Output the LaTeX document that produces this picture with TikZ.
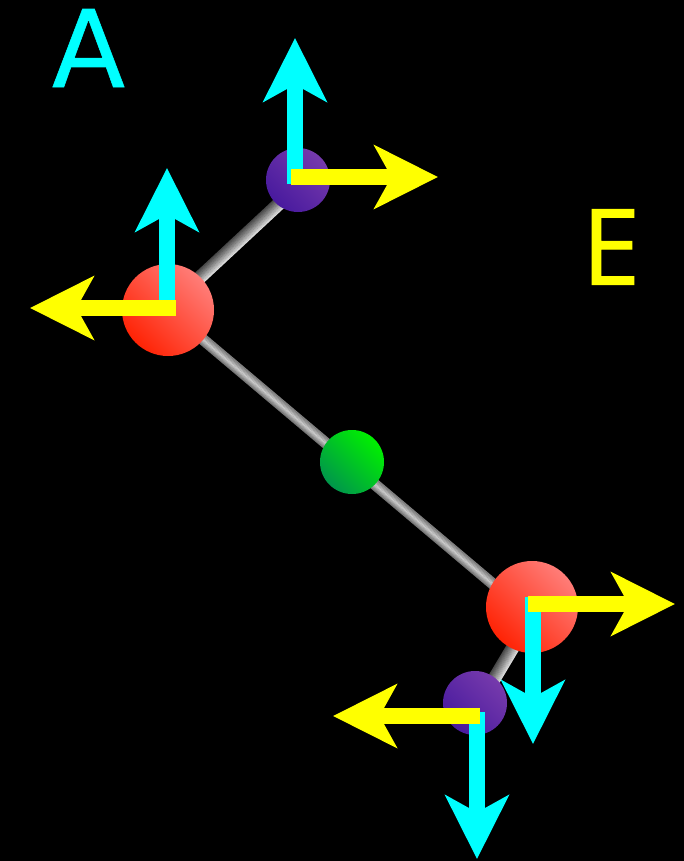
\documentclass[tikz,border=0pt]{standalone}
\usepackage{fontspec}
\newfontfamily\Afont[FakeBold=0.5]{DejaVu Sans}
\newfontfamily\Efont[FakeBold=1.0]{Open Sans}
\usetikzlibrary{arrows.meta,calc}
\definecolor{cyanA}{RGB}{0,255,255}
\definecolor{yellowE}{RGB}{255,255,0}
\definecolor{redlo}{RGB}{255,35,5}
\definecolor{redhi}{RGB}{255,125,120}
\definecolor{purplo}{RGB}{72,26,158}
\definecolor{purphi}{RGB}{118,58,172}
\definecolor{grnlo}{RGB}{0,150,75}
\definecolor{grnhi}{RGB}{0,240,0}
\tikzset{
  x=1pt,y=-1pt,
  atom/.style={circle,inner sep=0pt,draw=none},
  bigatom/.style={atom,minimum size=92pt,left color=redlo,right color=redhi,shading angle=135},
  smallatom/.style={atom,minimum size=64pt,left color=purplo,right color=purphi,shading angle=135},
  midatom/.style={atom,minimum size=64pt,left color=grnlo,right color=grnhi,shading angle=135},
  vec/.style={line width=16pt,-{Stealth[length=63.5pt,width=63pt,inset=17pt]}},
  cyanvec/.style={vec,draw=cyanA,color=cyanA},
  yellowvec/.style={vec,draw=yellowE,color=yellowE},
  letterA/.style={inner sep=0pt,font=\Afont\fontsize{107}{107}\selectfont},
  letterE/.style={inner sep=0pt,font=\Efont\fontsize{105}{105}\selectfont},
}
% from, to, half width, grey at the minus edge, mid, plus edge (percent of white)
\newcommand{\bond}[6]{%
  \pgfmathtruncatemacro{\nn}{2*#3}%
  \foreach \i in {0,...,\nn}{%
    \pgfmathsetmacro{\o}{\i-#3}%
    \pgfmathsetmacro{\g}{\o<0 ? #5+(#4-#5)*(-\o/#3) : #5+(#6-#5)*(\o/#3)}%
    \draw[line width=1.3pt,color=white!\g!black]
      ($(#1)!\o pt!90:(#2)$) -- ($(#2)!\o pt!-90:(#1)$);
  }%
}
\begin{document}
\begin{tikzpicture}
\useasboundingbox (0,0) rectangle (684,861);
\fill[black] (0,0) rectangle (684,861);
\coordinate (pa) at (298,180);
\coordinate (ra) at (168,310);
\coordinate (gc) at (352,462);
\coordinate (rb) at (532,607);
\coordinate (pb) at (475,703);
\coordinate (topa) at ($(pa)+(0,6)$);
\coordinate (topb) at ($(ra)+(0,-3)$);
\coordinate (mida) at (ra);
\coordinate (midb) at ($(rb)+(0,10)$);
\coordinate (lowa) at ($(rb)+(5,0)$);
\coordinate (lowb) at ($(pb)+(0,8)$);
\bond{topa}{topb}{6}{28}{55}{85}
\bond{mida}{midb}{5}{45}{80}{50}
\bond{lowa}{lowb}{6}{28}{55}{85}
\node[smallatom] (p1) at (pa) {};
\node[bigatom] (r1) at (ra) {};
\node[midatom] (g1) at (gc) {};
\node[bigatom] (r2) at (rb) {};
\node[smallatom] (p2) at (pb) {};
\node[letterA,text=cyanA] (la) at (88.5,48) {A};
\node[letterE,text=yellowE] (le) at (611,247) {E};
\coordinate (c1s) at (167,312); \coordinate (c1t) at (167,168);
\coordinate (y1s) at (176,308); \coordinate (y1t) at (30,308);
\coordinate (c2s) at (295,184); \coordinate (c2t) at (295,38);
\coordinate (y2s) at (291,177); \coordinate (y2t) at (438,177);
\coordinate (c3s) at (533,597); \coordinate (c3t) at (533,744);
\coordinate (y3s) at (528,604); \coordinate (y3t) at (675,604);
\coordinate (c4s) at (477,712); \coordinate (c4t) at (477,859);
\coordinate (y4s) at (480,716); \coordinate (y4t) at (333,716);
\draw[cyanvec] (c1s) -- (c1t);
\draw[yellowvec] (y1s) -- (y1t);
\draw[cyanvec] (c2s) -- (c2t);
\draw[yellowvec] (y2s) -- (y2t);
\draw[cyanvec] (c3s) -- (c3t);
\draw[yellowvec] (y3s) -- (y3t);
\draw[cyanvec] (c4s) -- (c4t);
\draw[yellowvec] (y4s) -- (y4t);
\end{tikzpicture}
\end{document}
